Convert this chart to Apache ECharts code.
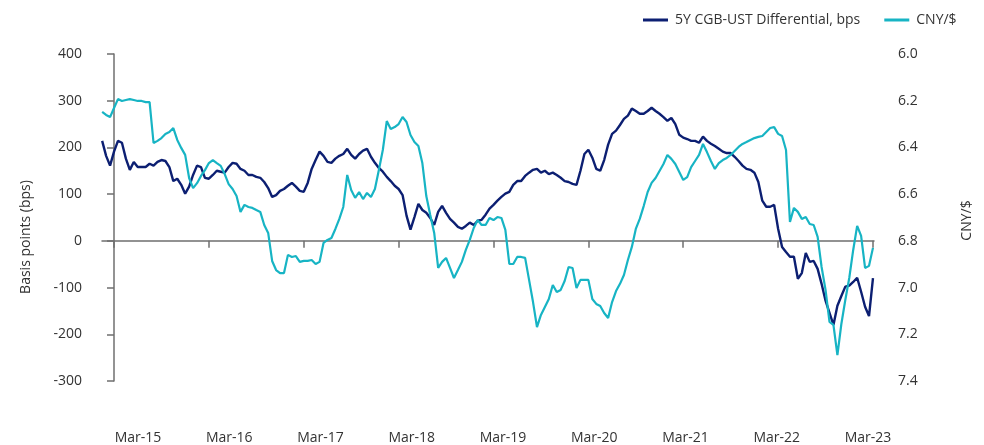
<!DOCTYPE html>
<html>
<head>
<meta charset="utf-8">
<script src="https://cdn.jsdelivr.net/npm/echarts@6/dist/echarts.min.js"></script>
<style>
  html, body { margin: 0; padding: 0; background: #ffffff; }
  #chart { width: 984px; height: 445px; }
</style>
</head>
<body>
<div id="chart"></div>
<script>
// Semi-monthly observations, mid-Jan 2015 to early Mar 2023
// x = months since 1 Mar 2015 (step 0.5 month)
const startMonth = -1.5;
const stepMonth = 0.5;

const tickLabels = ['Mar-15','Mar-16','Mar-17','Mar-18','Mar-19','Mar-20','Mar-21','Mar-22','Mar-23'];
const tickMonths = [0, 12, 24, 36, 48, 60, 72, 84, 96];

const seriesNames = ['5Y CGB-UST Differential, bps', 'CNY/$'];

// 5Y CGB-UST differential, bps
const bps = [
  214,182,161,191,214,210,176,152,169,158,
  158,158,165,161,169,173,171,158,128,133,
  120,101,116,141,161,158,135,133,141,150,
  148,146,158,167,165,154,150,141,141,137,
  135,126,113,94,98,107,111,118,124,116,
  107,105,124,154,173,191,182,169,167,176,
  182,186,197,184,176,186,193,197,180,167,
  156,148,137,128,118,111,98,54,24,51,
  79,66,60,49,34,62,75,60,47,39,
  30,26,32,39,34,43,45,56,69,77,
  86,94,101,105,120,128,128,139,146,152,
  154,146,150,143,146,141,135,128,126,122,
  120,150,186,195,178,154,150,173,206,229,
  236,248,261,268,283,278,272,272,278,285,
  278,272,265,257,263,250,227,221,218,214,
  214,210,223,214,208,203,197,191,188,188,
  180,171,161,154,152,146,126,86,73,73,
  77,26,-13,-24,-34,-34,-81,-69,-26,-45,
  -43,-60,-92,-128,-154,-180,-139,-118,-98,-96,
  -88,-79,-109,-141,-161,-80
];

// CNY per USD
const cny = [
  6.248,6.261,6.270,6.231,6.193,6.201,6.197,6.193,6.197,6.201,
  6.201,6.206,6.206,6.381,6.372,6.360,6.342,6.334,6.317,6.368,
  6.402,6.432,6.531,6.574,6.553,6.522,6.497,6.467,6.454,6.467,
  6.479,6.514,6.557,6.578,6.608,6.676,6.646,6.655,6.659,6.668,
  6.676,6.732,6.766,6.886,6.925,6.938,6.938,6.860,6.869,6.865,
  6.890,6.886,6.886,6.882,6.899,6.890,6.809,6.796,6.788,6.749,
  6.706,6.655,6.518,6.582,6.616,6.591,6.621,6.595,6.612,6.578,
  6.497,6.411,6.287,6.321,6.313,6.300,6.270,6.291,6.347,6.377,
  6.394,6.467,6.608,6.689,6.766,6.916,6.890,6.873,6.916,6.959,
  6.925,6.890,6.839,6.796,6.745,6.711,6.732,6.732,6.702,6.711,
  6.698,6.702,6.753,6.899,6.899,6.869,6.869,6.873,6.967,7.062,
  7.169,7.117,7.083,7.049,6.989,7.019,7.010,6.972,6.912,6.916,
  7.002,6.967,6.967,6.967,7.049,7.070,7.079,7.109,7.130,7.062,
  7.015,6.984,6.946,6.882,6.826,6.749,6.706,6.651,6.591,6.552,
  6.531,6.501,6.471,6.432,6.449,6.471,6.505,6.539,6.527,6.484,
  6.458,6.432,6.385,6.420,6.458,6.492,6.467,6.454,6.445,6.432,
  6.415,6.398,6.385,6.377,6.368,6.360,6.355,6.351,6.334,6.317,
  6.313,6.342,6.351,6.411,6.719,6.659,6.676,6.706,6.698,6.728,
  6.732,6.783,6.912,7.010,7.147,7.160,7.289,7.156,7.053,6.959,
  6.839,6.736,6.779,6.916,6.907,6.830
];

const NAVY = '#0c1f72';
const CYAN = '#17b4c4';
const AXIS = '#6f6f6f';
const TEXT = '#333333';
const FONT = 'Open Sans';

const xOf = i => startMonth + stepMonth * i;
const bpsData = bps.map((v, i) => [xOf(i), v]);
const cnyData = cny.map((v, i) => [xOf(i), v]);

const chart = echarts.init(document.getElementById('chart'), null, { renderer: 'canvas' });

chart.setOption({
  animation: false,
  backgroundColor: '#ffffff',
  textStyle: { fontFamily: FONT },
  legend: {
    left: 638,
    top: 8,
    itemGap: 24,
    itemWidth: 25,
    itemHeight: 3,
    icon: 'rect',
    textStyle: { fontFamily: FONT, fontSize: 14, color: TEXT, padding: [0, 0, 0, 2] },
    data: [
      { name: seriesNames[0], itemStyle: { color: NAVY } },
      { name: seriesNames[1], itemStyle: { color: CYAN } }
    ]
  },
  grid: { left: 102, right: 110, top: 54, bottom: 64, containLabel: false, outerBoundsMode: 'none' },
  xAxis: [
    {
      type: 'value',
      min: -1.52,
      max: 96.13,
      axisLine: { show: true, onZero: true, onZeroAxisIndex: 0, lineStyle: { color: AXIS, width: 1.5 } },
      axisTick: { show: true, length: 7, customValues: tickMonths, lineStyle: { color: AXIS, width: 1.5 } },
      axisLabel: { show: false },
      splitLine: { show: false }
    },
    {
      type: 'value',
      position: 'bottom',
      min: (102 - 138) / 91.25,
      max: (874 - 138) / 91.25,
      offset: 42,
      axisLine: { show: false, onZero: false },
      axisTick: { show: false },
      splitLine: { show: false },
      axisLabel: {
        show: true,
        margin: 8,
        customValues: tickLabels.map((_, k) => k),
        formatter: v => tickLabels[Math.round(v)] || '',
        fontFamily: FONT, fontSize: 14, color: TEXT
      }
    }
  ],
  yAxis: [
    {
      type: 'value',
      min: -300, max: 400, interval: 100,
      offset: -12,
      name: 'Basis points (bps)',
      nameLocation: 'middle',
      nameGap: 81,
      nameTextStyle: { fontFamily: FONT, fontSize: 14, color: TEXT, padding: [0, 39, 0, 0] },
      axisLine: { show: true, onZero: false, lineStyle: { color: AXIS, width: 1.5 } },
      axisTick: { show: true, length: 7, lineStyle: { color: AXIS, width: 1.5 } },
      axisLabel: { margin: 32, fontFamily: FONT, fontSize: 14, color: TEXT },
      splitLine: { show: false }
    },
    {
      type: 'value',
      position: 'right',
      inverse: true,
      min: 6.0, max: 7.4, interval: 0.2,
      name: 'CNY/$',
      nameLocation: 'middle',
      nameGap: 86,
      nameTextStyle: { fontFamily: FONT, fontSize: 14, color: TEXT, padding: [0, 6, 0, 0] },
      axisLine: { show: false, onZero: false },
      axisTick: { show: false },
      axisLabel: { margin: 24, fontFamily: FONT, fontSize: 14, color: TEXT, formatter: v => v.toFixed(1) },
      splitLine: { show: false }
    }
  ],
  series: [
    {
      name: seriesNames[0],
      type: 'line',
      xAxisIndex: 0,
      yAxisIndex: 0,
      data: bpsData,
      showSymbol: false,
      symbol: 'none',
      lineStyle: { color: NAVY, width: 2.4 },
      itemStyle: { color: NAVY },
      z: 2
    },
    {
      name: seriesNames[1],
      type: 'line',
      xAxisIndex: 0,
      yAxisIndex: 1,
      data: cnyData,
      showSymbol: false,
      symbol: 'none',
      lineStyle: { color: CYAN, width: 2.2 },
      itemStyle: { color: CYAN },
      z: 3
    }
  ]
});
</script>
</body>
</html>
